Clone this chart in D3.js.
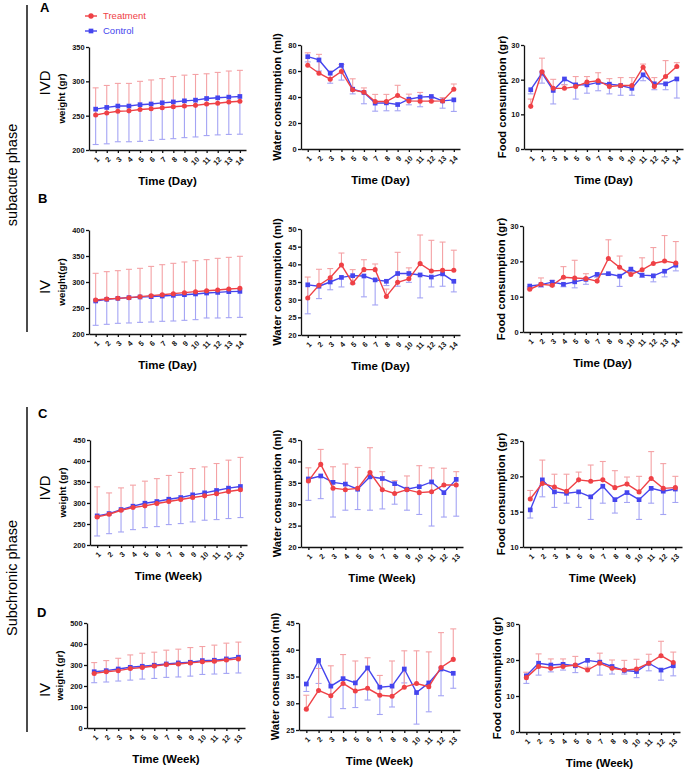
<!DOCTYPE html>
<html>
<head>
<meta charset="utf-8">
<script src="https://cdn.jsdelivr.net/npm/d3@7"></script>
<style>
  body { margin: 0; background: #fff; }
  svg { font-family: Arial, "Liberation Sans", sans-serif; }
</style>
</head>
<body>
<svg id="chart" width="685" height="770"></svg>
<script>
// tick labels
const dayTicks = [1, 2, 3, 4, 5, 6, 7, 8, 9, 10, 11, 12, 13, 14];
const weekTicks = [1, 2, 3, 4, 5, 6, 7, 8, 9, 10, 11, 12, 13];

// A: subacute, IVD  (means and SD; treatment SD drawn up, control SD drawn down)
const aWeightT = [251, 254, 256.5, 257, 259, 260, 261.5, 263, 264, 265, 267, 268, 270, 271];
const aWeightTsd = [39.5, 40, 40.5, 40, 41, 42, 42.5, 44, 45, 45, 44, 45, 45, 45];
const aWeightC = [259.5, 262, 264, 264, 266, 267, 268.7, 270, 271.6, 272.6, 275, 276, 277, 278];
const aWeightCsd = [51.5, 53, 52, 52, 53.4, 53, 53.2, 53.5, 53.6, 53.6, 54, 54, 54.3, 55];
const aWaterT = [64.4, 58.3, 53.7, 59.6, 45.5, 43.7, 36.5, 36.5, 41.2, 37, 36.8, 36.8, 37, 46];
const aWaterTsd = [9.6, 14.5, 6.3, 5.4, 8.5, 3.3, 5.5, 5.5, 7.8, 5.2, 6.7, 3.2, 2.6, 4];
const aWaterC = [71, 68.5, 58.3, 64.4, 46, 43.5, 35.3, 35.5, 34.2, 38.3, 39.9, 40.4, 37, 37.8];
const aWaterCsd = [4, 8.5, 7.7, 11.4, 3.6, 8.7, 6.2, 6.1, 4.8, 4.3, 7.4, 3.4, 5.6, 8.9];
const aFoodT = [12.3, 22.3, 17.5, 17.5, 18, 19.3, 19.7, 18, 18.3, 18.3, 23.6, 18, 20.9, 23.8];
const aFoodTsd = [2.1, 3.9, 2.6, 1, 2.9, 1.6, 2.3, 2.3, 2.3, 2.3, 0.9, 2.6, 4.6, 1.1];
const aFoodC = [17.1, 21.9, 16.9, 20.2, 18.5, 18.5, 19.2, 18.7, 18.3, 17.5, 21.4, 18.8, 18.8, 20.2];
const aFoodCsd = [1.2, 2.9, 3.9, 1.6, 4.1, 2.4, 2.4, 2.8, 2.8, 2, 1.7, 1.7, 1.7, 5.5];

// B: subacute, IV
const bWeightT = [265.4, 267.3, 268.6, 269.9, 271.8, 273.7, 275.6, 277.6, 279.5, 281.4, 283.3, 284.6, 286.5, 287.8];
const bWeightTsd = [51.3, 52.6, 53.2, 54.5, 54.5, 56.3, 57.7, 58.3, 59, 59.6, 59.7, 60.9, 60.9, 61.6];
const bWeightC = [263.5, 266.7, 268.6, 269.9, 271.2, 271.8, 273, 274.4, 275.6, 277, 278.8, 280, 281.4, 282];
const bWeightCsd = [46.8, 48.1, 48.1, 48.7, 48.8, 48.8, 48.6, 49.4, 49.3, 49.4, 48, 49.2, 50, 50];
const bWaterT = [30.5, 34.1, 36.2, 39.8, 34.7, 38.5, 38.5, 30.9, 34.9, 35.9, 40.2, 38.1, 38.3, 38.3];
const bWaterTsd = [5.9, 4.5, 2.6, 3.4, 3.8, 2.8, 1.6, 2.1, 8.5, 3.1, 8.1, 8.7, 8, 5.7];
const bWaterC = [34.2, 33.8, 35, 36.3, 36.8, 36.7, 35.6, 35.2, 37.4, 37.4, 37, 36.4, 37.3, 35.2];
const bWaterCsd = [8.2, 3.5, 2.2, 2.7, 2.3, 5.9, 7.1, 1.2, 3.6, 2.5, 6.5, 2.8, 3.5, 3];
const bFoodT = [12.1, 13.5, 13.2, 15.5, 15.3, 15.1, 14.4, 20.8, 18.3, 16.3, 17.6, 19.4, 20.1, 19.5];
const bFoodTsd = [0.7, 1.8, 1.4, 3, 5, 1.4, 1.6, 5.3, 3.2, 0.7, 3.4, 4.5, 7.2, 6.1];
const bFoodC = [13, 13.4, 14.1, 13.5, 14.2, 14.9, 16.3, 16.5, 15.8, 17.8, 16.1, 15.9, 17.2, 18.9];
const bFoodCsd = [0.8, 0.7, 1.1, 0.7, 1.7, 1.4, 0.8, 0.5, 2.9, 0.8, 0.6, 1.7, 1.6, 1.6];

// C: subchronic, IVD
const cWeightT = [266.9, 273.2, 282.8, 289.2, 293.2, 298.7, 303.5, 308.3, 313, 317, 321.8, 327.4, 331.4];
const cWeightTsd = [71.6, 50.8, 53.2, 53.3, 58.8, 59.3, 62.1, 64.5, 69, 69, 72.2, 74.6, 77.2];
const cWeightC = [269.3, 274.8, 284.4, 292.4, 299.5, 303.5, 309, 313, 319.4, 324.2, 329.8, 335.4, 339.3];
const cWeightCsd = [47.8, 47.8, 53.4, 55.8, 58.1, 59.7, 60.4, 62, 64.4, 65.2, 69.3, 72.4, 74];
const cWaterT = [35.4, 39.3, 33.75, 33.4, 33.7, 37.4, 33.4, 32.5, 33.4, 32.7, 32.9, 34.5, 34.5];
const cWaterTsd = [3.1, 3.5, 5, 6, 4.9, 5.8, 4.2, 3, 3.2, 6.3, 5.6, 3.9, 3.1];
const cWaterC = [35.9, 36.6, 35.1, 34.7, 33.5, 36.4, 36, 34.8, 33.5, 34.1, 35.2, 32.7, 35.8];
const cWaterCsd = [5, 5.3, 8.1, 6.1, 4.75, 7.8, 7.1, 4.8, 4.9, 6.5, 10.3, 5.7, 8.6];
const cFoodT = [16.8, 19, 18.5, 17.9, 19.5, 19.3, 19.5, 18.4, 18.9, 17.8, 19.7, 18.3, 18.4];
const cFoodTsd = [1.2, 3.3, 1.8, 2.4, 1.1, 2.3, 2.6, 2.4, 1, 2.2, 3.8, 3.5, 1.6];
const cFoodC = [15.25, 19.5, 17.8, 17.6, 17.8, 17.1, 18.6, 16.7, 17.7, 16.7, 18.3, 17.9, 18.2];
const cFoodCsd = [1.15, 2.4, 2.2, 1.4, 2.2, 3.2, 2.4, 1.9, 1.4, 2.8, 2.1, 3.3, 1.9];

// D: subchronic, IV
const dWeightT = [260, 268, 273, 283, 288, 295.5, 302, 305, 310, 315, 318, 324, 329];
const dWeightTsd = [51.5, 53, 59, 65, 68, 65.5, 68.6, 70.4, 73, 73, 76.6, 80, 80];
const dWeightC = [268, 273, 281, 289, 294, 299, 305, 310, 313, 321, 322.7, 329, 337];
const dWeightCsd = [52.3, 54, 57.4, 61, 61, 63, 64, 67, 66, 66, 65.7, 69, 75];
const dWaterT = [28.9, 32.4, 31.4, 33.7, 32.3, 32.8, 31.5, 31.3, 33, 33.7, 33.1, 36.7, 38.2];
const dWaterTsd = [2.6, 4.1, 5.6, 5.4, 5.6, 5.7, 3.7, 6.6, 6.8, 6.1, 6.5, 6.5, 5.7];
const dWaterC = [33.6, 38, 33.2, 34.6, 33.8, 36.6, 33, 33.2, 36.4, 32, 33.8, 36.4, 35.6];
const dWaterCsd = [1.4, 4.3, 5.8, 5.6, 4.6, 6, 5.1, 3.9, 2.6, 5.9, 5.4, 5, 2.8];
const dFoodT = [15.1, 18.2, 17.7, 18.2, 18.6, 17.2, 19.1, 17.7, 17.2, 17.5, 19.1, 21.2, 19.3];
const dFoodTsd = [1.5, 3.5, 2.6, 2.1, 2.4, 0.8, 2.8, 2.3, 2.7, 2.7, 2.5, 4, 2.9];
const dFoodC = [15.6, 19.1, 18.6, 18.8, 18.4, 19.9, 19.4, 18.2, 17.1, 16.8, 19.1, 17.2, 18.4];
const dFoodCsd = [2.1, 3.3, 1.9, 1.6, 1.9, 2.4, 3.6, 2.1, 1, 1.7, 2.1, 2.8, 2.8];

const RED = '#ef4146';
const BLUE = '#4545ee';
const RED_ERR = '#f4a2a5';
const BLUE_ERR = '#a4a4f4';

const svg = d3.select('#chart');

// frame of each panel: y-axis x, x-axis end, plot top, plot bottom
const panels = [
  { x0: 89, x1: 246, top: 47, bottom: 150, ticks: dayTicks, yTicks: [200, 250, 300, 350], yLabel: 'weight (gr)', xLabel: 'Time (Day)', t: aWeightT, tsd: aWeightTsd, c: aWeightC, csd: aWeightCsd, titleDx: 27 },
  { x0: 301, x1: 460, top: 45, bottom: 149, ticks: dayTicks, yTicks: [0, 20, 40, 60, 80], yLabel: 'Water consumption (ml)', xLabel: 'Time (Day)', t: aWaterT, tsd: aWaterTsd, c: aWaterC, csd: aWaterCsd, titleDx: 24 },
  { x0: 524, x1: 683, top: 45, bottom: 149, ticks: dayTicks, yTicks: [0, 10, 20, 30], yLabel: 'Food consumption (gr)', xLabel: 'Time (Day)', t: aFoodT, tsd: aFoodTsd, c: aFoodC, csd: aFoodCsd, titleDx: 22 },

  { x0: 89, x1: 246, top: 230, bottom: 334, ticks: dayTicks, yTicks: [200, 250, 300, 350, 400], yLabel: 'weight(gr)', xLabel: 'Time (Day)', t: bWeightT, tsd: bWeightTsd, c: bWeightC, csd: bWeightCsd, titleDx: 27 },
  { x0: 301, x1: 460, top: 229, bottom: 335, ticks: dayTicks, yTicks: [20, 25, 30, 35, 40, 45, 50], yLabel: 'Water consumption (ml)', xLabel: 'Time (Day)', t: bWaterT, tsd: bWaterTsd, c: bWaterC, csd: bWaterCsd, titleDx: 24 },
  { x0: 523, x1: 682, top: 226, bottom: 332, ticks: dayTicks, yTicks: [0, 10, 20, 30], yLabel: 'Food consumption (gr)', xLabel: 'Time (Day)', t: bFoodT, tsd: bFoodTsd, c: bFoodC, csd: bFoodCsd, titleDx: 22 },

  { x0: 90, x1: 247, top: 440, bottom: 545, ticks: weekTicks, yTicks: [200, 250, 300, 350, 400, 450], yLabel: 'weight (gr)', xLabel: 'Time (Week)', t: cWeightT, tsd: cWeightTsd, c: cWeightC, csd: cWeightCsd, titleDx: 27 },
  { x0: 301, x1: 463, top: 440, bottom: 547, ticks: weekTicks, yTicks: [20, 25, 30, 35, 40, 45], yLabel: 'Water consumption (ml)', xLabel: 'Time (Week)', t: cWaterT, tsd: cWaterTsd, c: cWaterC, csd: cWaterCsd, titleDx: 24 },
  { x0: 523, x1: 682, top: 441, bottom: 547, ticks: weekTicks, yTicks: [10, 15, 20, 25], yLabel: 'Food consumption (gr)', xLabel: 'Time (Week)', t: cFoodT, tsd: cFoodTsd, c: cFoodC, csd: cFoodCsd, titleDx: 22 },

  { x0: 87, x1: 245, top: 623, bottom: 728, ticks: weekTicks, yTicks: [0, 100, 200, 300, 400, 500], yLabel: 'weight (gr)', xLabel: 'Time (Week)', t: dWeightT, tsd: dWeightTsd, c: dWeightC, csd: dWeightCsd, titleDx: 27 },
  { x0: 299, x1: 460, top: 623, bottom: 730, ticks: weekTicks, yTicks: [25, 30, 35, 40, 45], yLabel: 'Water consumption (ml)', xLabel: 'Time (Week)', t: dWaterT, tsd: dWaterTsd, c: dWaterC, csd: dWaterCsd, titleDx: 24 },
  { x0: 519, x1: 680, top: 624, bottom: 732, ticks: weekTicks, yTicks: [0, 10, 20, 30], yLabel: 'Food consumption (gr)', xLabel: 'Time (Week)', t: dFoodT, tsd: dFoodTsd, c: dFoodC, csd: dFoodCsd, titleDx: 22 },
];

function drawPanel(p) {
  const n = p.ticks.length;
  const x = d3.scaleLinear().domain([0.4, n + 0.55]).range([p.x0, p.x1]);
  const y = d3.scaleLinear().domain(d3.extent(p.yTicks)).range([p.bottom, p.top]);
  const g = svg.append('g');

  // axes
  const gy = g.append('g')
    .attr('transform', `translate(${p.x0},0)`)
    .call(d3.axisLeft(y).tickValues(p.yTicks).tickSize(3).tickPadding(1.5).tickSizeOuter(0));
  gy.selectAll('text').attr('font-size', 7.4).attr('font-weight', 'bold').attr('fill', '#111');

  const gx = g.append('g')
    .attr('transform', `translate(0,${p.bottom})`)
    .call(d3.axisBottom(x).tickValues(p.ticks).tickSize(3).tickSizeOuter(0));
  gx.selectAll('text')
    .attr('y', 0).attr('dy', '0.35em')
    .attr('transform', 'translate(2,8) rotate(-45)')
    .attr('text-anchor', 'end')
    .attr('font-size', 7.4).attr('font-weight', 'bold').attr('fill', '#111');

  g.selectAll('.domain, .tick line').attr('stroke', '#111').attr('stroke-width', 1.3);

  // titles
  g.append('text')
    .attr('transform', `translate(${p.x0 - p.titleDx},${(p.top + p.bottom) / 2}) rotate(-90)`)
    .attr('text-anchor', 'middle').attr('dy', '0.35em')
    .attr('font-size', p.yLabel.startsWith('weight') ? 9.8 : 11.2)
    .attr('font-weight', 'bold')
    .text(p.yLabel);
  g.append('text')
    .attr('x', (p.x0 + p.x1) / 2).attr('y', p.bottom + 35)
    .attr('text-anchor', 'middle')
    .attr('font-size', 11.5).attr('font-weight', 'bold')
    .text(p.xLabel);

  const series = [
    { mean: p.c, sd: p.csd, dir: -1, col: BLUE, err: BLUE_ERR, shape: 'square' },
    { mean: p.t, sd: p.tsd, dir: 1, col: RED, err: RED_ERR, shape: 'circle' },
  ];

  // error bars
  series.forEach((s) => {
    const eb = g.append('g').attr('stroke', s.err).attr('stroke-width', 1.1);
    s.mean.forEach((m, i) => {
      const xi = x(p.ticks[i]);
      const yEnd = y(m + s.dir * s.sd[i]);
      eb.append('line').attr('x1', xi).attr('x2', xi).attr('y1', y(m)).attr('y2', yEnd);
      eb.append('line').attr('x1', xi - 3).attr('x2', xi + 3).attr('y1', yEnd).attr('y2', yEnd);
    });
  });

  // lines and markers
  series.forEach((s) => {
    const line = d3.line().x((d, i) => x(p.ticks[i])).y((d) => y(d));
    g.append('path').datum(s.mean)
      .attr('d', line).attr('fill', 'none').attr('stroke', s.col).attr('stroke-width', 1.4);
    const sym = d3.symbol().type(s.shape === 'circle' ? d3.symbolCircle : d3.symbolSquare)
      .size(s.shape === 'circle' ? 20 : 22);
    g.selectAll(null).data(s.mean).enter().append('path')
      .attr('d', sym)
      .attr('transform', (d, i) => `translate(${x(p.ticks[i])},${y(d)})`)
      .attr('fill', s.col);
  });
}

panels.forEach(drawPanel);

// legend
const legend = [
  { name: 'Treatment', col: RED, shape: d3.symbolCircle, y: 16 },
  { name: 'Control', col: BLUE, shape: d3.symbolSquare, y: 31 },
];
legend.forEach((l) => {
  const lg = svg.append('g');
  lg.append('line').attr('x1', 85).attr('x2', 97).attr('y1', l.y).attr('y2', l.y)
    .attr('stroke', l.col).attr('stroke-width', 1.4);
  lg.append('path').attr('d', d3.symbol().type(l.shape).size(22))
    .attr('transform', `translate(91,${l.y})`).attr('fill', l.col);
  lg.append('text').attr('x', 103).attr('y', l.y).attr('dy', '0.35em')
    .attr('font-size', 9.5).attr('fill', l.col).text(l.name);
});

// panel letters
[['A', 40, 12], ['B', 38, 203], ['C', 38, 418], ['D', 37, 617]].forEach(([t, lx, ly]) => {
  svg.append('text').attr('x', lx).attr('y', ly)
    .attr('font-size', 13).attr('font-weight', 'bold').text(t);
});

// route labels
[['IVD', 83], ['IV', 287], ['IVD', 488], ['IV', 690]].forEach(([t, cy]) => {
  svg.append('text')
    .attr('transform', `translate(45,${cy}) rotate(-90)`)
    .attr('text-anchor', 'middle').attr('dy', '0.35em')
    .attr('font-size', 15).text(t);
});

// phase brackets
[['subacute phase', 5, 332, 175], ['Subchronic phase', 407, 732, 578]].forEach(([t, y1, y2, cy]) => {
  svg.append('line').attr('x1', 27).attr('x2', 27).attr('y1', y1).attr('y2', y2)
    .attr('stroke', '#111').attr('stroke-width', 1.5);
  svg.append('text')
    .attr('transform', `translate(12,${cy}) rotate(-90)`)
    .attr('text-anchor', 'middle').attr('dy', '0.35em')
    .attr('font-size', 14.5).text(t);
});
</script>
</body>
</html>
